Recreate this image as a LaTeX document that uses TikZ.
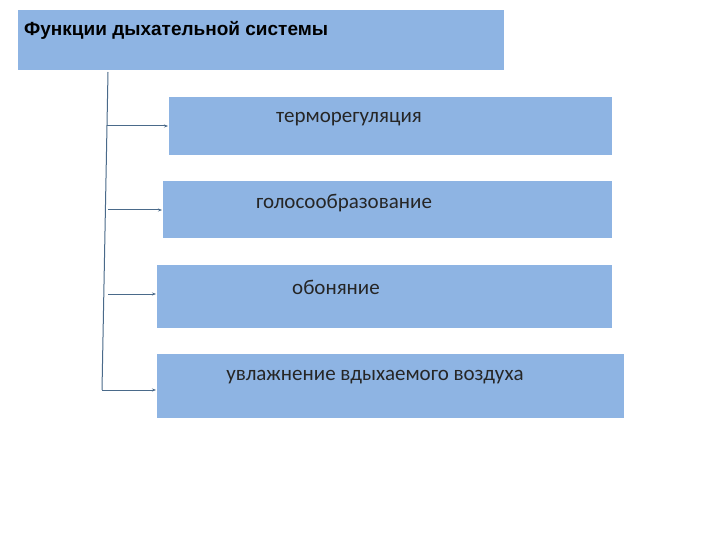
\documentclass[tikz,border=0pt]{standalone}
\usepackage{fontspec}
\setmainfont{Carlito}
\newfontfamily\titlefont{Liberation Sans}
\usetikzlibrary{arrows.meta}
\definecolor{boxfill}{HTML}{8EB4E3}
\definecolor{lineblue}{HTML}{4A6A8A}
\begin{document}
\begin{tikzpicture}[x=1pt,y=-1pt,
  fbox/.style={fill=boxfill,draw=none},
  lbl/.style={font=\fontsize{21}{24}\selectfont,text=black!85,inner sep=0pt},
  conn/.style={draw=lineblue,line width=1pt},
  arr/.style={conn,-{Stealth[length=4pt,width=3pt]}}]
\useasboundingbox[fill=white] (0,0) rectangle (720,540);
\fill[boxfill] (18,10) rectangle (504,70);
\node[anchor=west,inner sep=0pt,font=\titlefont\bfseries\fontsize{19}{22}\selectfont] (title) at (24,30) {Функции дыхательной системы};
\fill[fbox] (169,97) rectangle (612,155);
\fill[fbox] (163,181) rectangle (612,238);
\fill[fbox] (157,265) rectangle (612,328);
\fill[fbox] (157,354) rectangle (624,418);
\node[lbl] (t1) at (349,119) {терморегуляция};
\node[lbl] (t2) at (344,203) {голосообразование};
\node[lbl] (t3) at (336,287) {обоняние};
\node[lbl] (t4) at (375,377) {увлажнение вдыхаемого воздуха};
\coordinate (top) at (108,72);
\coordinate (bot) at (102,390);
\coordinate (a1) at (107,126); \coordinate (b1) at (168,126);
\coordinate (a2) at (108,210); \coordinate (b2) at (162,210);
\coordinate (a3) at (108,294); \coordinate (b3) at (156,294);
\coordinate (b4) at (156,390);
\draw[conn] (top) -- (bot);
\draw[arr] (a1) -- (b1);
\draw[arr] (a2) -- (b2);
\draw[arr] (a3) -- (b3);
\draw[arr] (bot) -- (b4);
\end{tikzpicture}
\end{document}
